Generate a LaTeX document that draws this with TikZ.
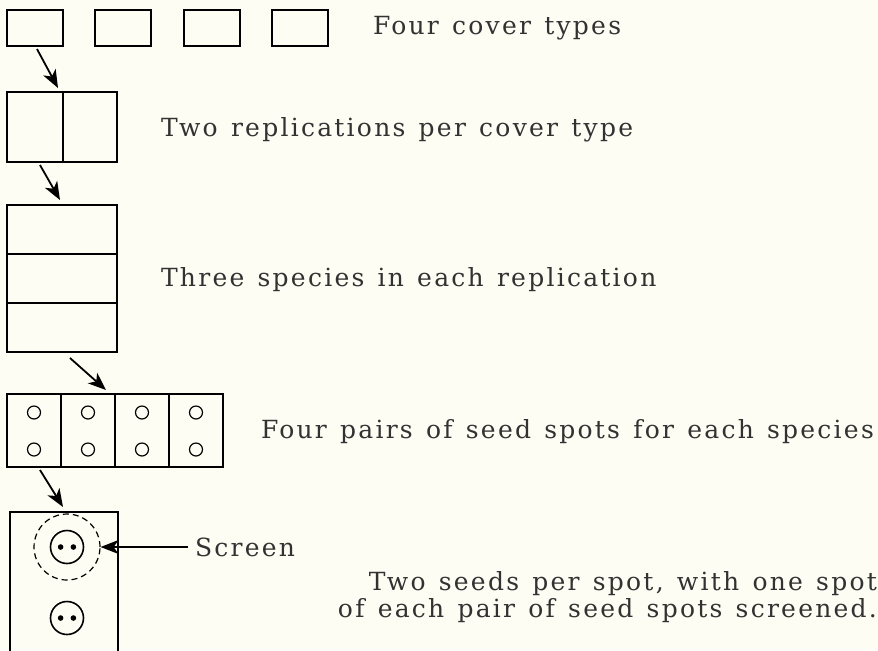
\documentclass[tikz,border=0pt]{standalone}
\usepackage{fontspec}
\setmainfont{DejaVu Serif}[LetterSpace=9,WordSpace=1.3]
\usetikzlibrary{arrows.meta,positioning,calc}
\definecolor{paper}{RGB}{253,253,243}
\definecolor{ink}{RGB}{50,50,50}
\tikzset{
  cellbox/.style={draw,line width=1.1pt,outer sep=0pt,inner sep=0pt},
  seed/.style={draw,circle,line width=.6pt,minimum size=6.5pt,inner sep=0pt},
  spot/.style={draw,circle,line width=.8pt,minimum size=16.5pt,inner sep=0pt},
  flow/.style={-{Stealth[length=9pt,width=7pt,inset=2.5pt]},line width=.9pt},
  note/.style={text=ink,font=\fontsize{12.5}{13.5}\selectfont}
}
\begin{document}
\begin{tikzpicture}[x=0.5pt,y=-0.5pt]
\fill[paper] (0,0) rectangle (878,650);
\useasboundingbox (0,0) rectangle (878,650);
\clip (0,0) rectangle (878,650);
% cover types
\foreach \i/\x in {1/35,2/123,3/212,4/300}
  \node[cellbox,minimum width=28pt,minimum height=18pt] (top\i) at (\x,28) {};
\node[note,anchor=west] (lbltop) at (366,28) {Four cover types};
% replications
\node[cellbox,minimum width=28pt,minimum height=35pt] (rep1) at (35,127) {};
\node[cellbox,minimum width=27pt,minimum height=35pt,right=0pt of rep1] (rep2) {};
\node[note,anchor=west] (lblrep) at (154,130) {Two replications per cover type};
% species
\node[cellbox,minimum width=55pt,minimum height=24.5pt] (sp1) at (62,229.5) {};
\node[cellbox,minimum width=55pt,minimum height=24.5pt,below=0pt of sp1] (sp2) {};
\node[cellbox,minimum width=55pt,minimum height=24.5pt,below=0pt of sp2] (sp3) {};
\node[note,anchor=west] (lblsp) at (154,280) {Three species in each replication};
% pairs of seed spots
\node[cellbox,minimum width=27pt,minimum height=36.5pt] (pr1) at (34,430.5) {};
\foreach \i [count=\j from 2] in {1,2,3}
  \node[cellbox,minimum width=27pt,minimum height=36.5pt,right=0pt of pr\i] (pr\j) {};
\foreach \i in {1,...,4} {
  \node[seed] (up\i) at ([yshift=9pt]pr\i.center) {};
  \node[seed] (dn\i) at ([yshift=-9.5pt]pr\i.center) {};
}
\node[note,anchor=west] (lblpr) at (254,432) {Four pairs of seed spots for each species};
% one pair, seeds and screen
\node[cellbox,minimum width=54pt,minimum height=80pt] (plot) at (64,592) {};
\node[spot] (spotA) at (67,547) {};
\node[draw,circle,dashed,dash pattern=on 3pt off 2pt,line width=.6pt,minimum size=33pt,inner sep=0pt] (screen) at (67,547) {};
\node[spot] (spotB) at (67,618) {};
\foreach \s in {spotA,spotB} {
  \fill ([xshift=-3.2pt]\s.center) circle (1.4pt);
  \fill ([xshift=3.2pt]\s.center) circle (1.4pt);
}
\node[note,anchor=west] (scrlab) at (188,547) {Screen};
\node[note,anchor=east,align=right] (lblseed) at (884,597) {Two seeds per spot, with one spot\\of each pair of seed spots screened.};
% arrows
\draw[flow] ([shift={(2,3)}]top1.south) -- ([shift={(-5,-4)}]rep1.north east);
\draw[flow] ([shift={(5,3)}]rep1.south) -- ([shift={(-2,-5)}]sp1.north);
\draw[flow] ([shift={(8,6)}]sp3.south) -- ([shift={(18,-4)}]pr2.north);
\draw[flow] ([shift={(6,3)}]pr1.south) -- ([shift={(-1,-5)}]plot.north);
\draw[flow] (scrlab.west) -- (screen.east);
\end{tikzpicture}
\end{document}
